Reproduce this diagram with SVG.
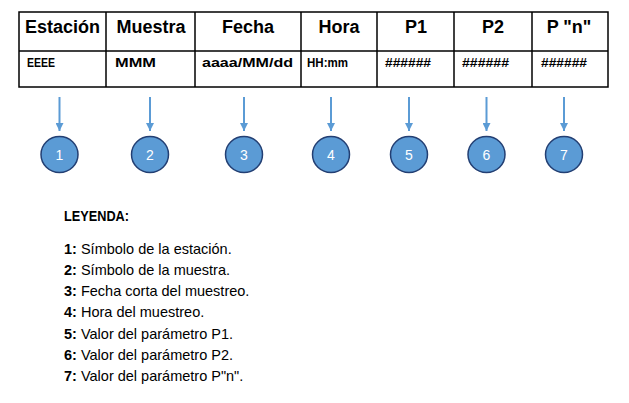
<svg xmlns="http://www.w3.org/2000/svg" width="629" height="403" viewBox="0 0 629 403">
<style>
.grid{fill:none;stroke:#000;stroke-width:1.5}
.hd{font-family:"Liberation Sans",Arial,sans-serif;font-weight:bold;font-size:18px;fill:#000;text-anchor:middle}
.cell{font-family:"Liberation Sans",Arial,sans-serif;font-weight:bold;font-size:13px;fill:#000}
.circ{fill:#5B9BD5;stroke:#233F73;stroke-width:1.5}
.num{font-family:"Liberation Sans",Arial,sans-serif;font-size:14px;fill:#fff;text-anchor:middle}
.conn{stroke:#5B9BD5;stroke-width:2;fill:none}
.lg{font-family:"Liberation Sans",Arial,sans-serif;font-size:14.5px;fill:#000}
.lg tspan.b{font-weight:bold}
</style>
<defs>
<marker id="ah" viewBox="0 0 8 8" refX="8" refY="4" markerWidth="8" markerHeight="8" markerUnits="userSpaceOnUse" orient="auto">
<path d="M0,0 L8,4 L0,8 Z" fill="#5B9BD5"/>
</marker>
</defs>
<rect width="629" height="403" fill="#fff"/>
<g id="table">
<rect class="grid" x="19" y="12" width="589" height="75"/>
<line class="grid" x1="19" y1="51" x2="608" y2="51"/>
<line class="grid" x1="106" y1="12" x2="106" y2="87"/>
<line class="grid" x1="195" y1="12" x2="195" y2="87"/>
<line class="grid" x1="301" y1="12" x2="301" y2="87"/>
<line class="grid" x1="377" y1="12" x2="377" y2="87"/>
<line class="grid" x1="454" y1="12" x2="454" y2="87"/>
<line class="grid" x1="532" y1="12" x2="532" y2="87"/>
<text class="hd" x="62.5" y="33">Estación</text>
<text class="hd" x="151" y="33">Muestra</text>
<text class="hd" x="248" y="33">Fecha</text>
<text class="hd" x="339" y="33">Hora</text>
<text class="hd" x="416" y="33">P1</text>
<text class="hd" x="493" y="33">P2</text>
<text class="hd" x="569" y="33">P "n"</text>
<text class="cell" x="27" y="67" textLength="28" lengthAdjust="spacingAndGlyphs">EEEE</text>
<text class="cell" x="115" y="67" textLength="41" lengthAdjust="spacingAndGlyphs">MMM</text>
<text class="cell" x="202" y="67" textLength="91" lengthAdjust="spacingAndGlyphs">aaaa/MM/dd</text>
<text class="cell" x="307" y="67" textLength="41" lengthAdjust="spacingAndGlyphs">HH:mm</text>
<text class="cell" x="385" y="67" textLength="46" lengthAdjust="spacingAndGlyphs">######</text>
<text class="cell" x="462" y="67" textLength="47" lengthAdjust="spacingAndGlyphs">######</text>
<text class="cell" x="541" y="67" textLength="46" lengthAdjust="spacingAndGlyphs">######</text>
</g>
<g id="connectors">
<line class="conn" x1="59.5" y1="97" x2="59.5" y2="131" marker-end="url(#ah)"/>
<line class="conn" x1="150" y1="97" x2="150" y2="131" marker-end="url(#ah)"/>
<line class="conn" x1="244" y1="97" x2="244" y2="131" marker-end="url(#ah)"/>
<line class="conn" x1="331" y1="97" x2="331" y2="131" marker-end="url(#ah)"/>
<line class="conn" x1="409" y1="97" x2="409" y2="131" marker-end="url(#ah)"/>
<line class="conn" x1="486.5" y1="97" x2="486.5" y2="131" marker-end="url(#ah)"/>
<line class="conn" x1="564" y1="97" x2="564" y2="131" marker-end="url(#ah)"/>
</g>
<g id="n1"><ellipse class="circ" cx="59.5" cy="154.5" rx="18.5" ry="18"/><text class="num" x="59.5" y="160">1</text></g>
<g id="n2"><ellipse class="circ" cx="150" cy="154.5" rx="18.5" ry="18"/><text class="num" x="150" y="160">2</text></g>
<g id="n3"><ellipse class="circ" cx="244" cy="154.5" rx="18.5" ry="18"/><text class="num" x="244" y="160">3</text></g>
<g id="n4"><ellipse class="circ" cx="331" cy="154.5" rx="18.5" ry="18"/><text class="num" x="331" y="160">4</text></g>
<g id="n5"><ellipse class="circ" cx="409" cy="154.5" rx="18.5" ry="18"/><text class="num" x="409" y="160">5</text></g>
<g id="n6"><ellipse class="circ" cx="486.5" cy="154.5" rx="18.5" ry="18"/><text class="num" x="486.5" y="160">6</text></g>
<g id="n7"><ellipse class="circ" cx="564" cy="154.5" rx="18.5" ry="18"/><text class="num" x="564" y="160">7</text></g>
<g id="legend">
<text class="lg" x="64" y="221" font-weight="bold" font-size="13" textLength="65" lengthAdjust="spacingAndGlyphs">LEYENDA:</text>
<text class="lg" x="64" y="253.5"><tspan class="b">1:</tspan> Símbolo de la estación.</text>
<text class="lg" x="64" y="274.8"><tspan class="b">2:</tspan> Símbolo de la muestra.</text>
<text class="lg" x="64" y="296"><tspan class="b">3:</tspan> Fecha corta del muestreo.</text>
<text class="lg" x="64" y="317.3"><tspan class="b">4:</tspan> Hora del muestreo.</text>
<text class="lg" x="64" y="338.6"><tspan class="b">5:</tspan> Valor del parámetro P1.</text>
<text class="lg" x="64" y="360"><tspan class="b">6:</tspan> Valor del parámetro P2.</text>
<text class="lg" x="64" y="381"><tspan class="b">7:</tspan> Valor del parámetro P"n".</text>
</g>
</svg>
